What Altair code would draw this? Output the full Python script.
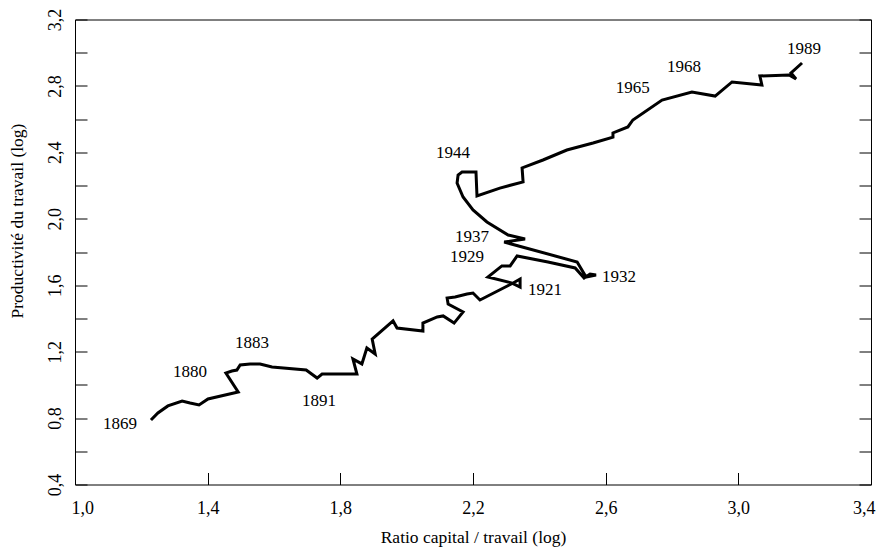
import altair as alt
import pandas as pd

# Trajectory (one vertex per year), chronological order
ratio_kl = [1.229, 1.250, 1.280, 1.323, 1.347, 1.374, 1.401, 1.492, 1.455, 1.473,
            1.488, 1.498, 1.528, 1.558, 1.594, 1.697, 1.730, 1.745, 1.850, 1.838,
            1.865, 1.880, 1.905, 1.896, 1.959, 1.971, 2.049, 2.049, 2.092, 2.110,
            2.143, 2.170, 2.125, 2.122, 2.146, 2.182, 2.200, 2.221, 2.321, 2.342,
            2.342, 2.318, 2.245, 2.287, 2.312, 2.333, 2.426, 2.508, 2.535, 2.553,
            2.571, 2.541, 2.514, 2.294, 2.357, 2.306, 2.242, 2.200, 2.170, 2.152,
            2.155, 2.167, 2.209, 2.212, 2.281, 2.351, 2.348, 2.411, 2.483, 2.562,
            2.622, 2.622, 2.667, 2.682, 2.770, 2.860, 2.930, 2.981, 3.071, 3.065,
            3.153, 3.174, 3.159, 3.192]
productivite = [0.788, 0.831, 0.873, 0.903, 0.891, 0.879, 0.915, 0.957, 1.071, 1.083,
                1.089, 1.120, 1.126, 1.126, 1.108, 1.089, 1.041, 1.065, 1.065, 1.156,
                1.126, 1.222, 1.186, 1.276, 1.385, 1.342, 1.324, 1.372, 1.409, 1.415,
                1.372, 1.439, 1.487, 1.523, 1.529, 1.547, 1.553, 1.511, 1.613, 1.637,
                1.589, 1.613, 1.649, 1.716, 1.716, 1.776, 1.740, 1.704, 1.643, 1.667,
                1.661, 1.649, 1.740, 1.860, 1.878, 1.902, 1.981, 2.053, 2.131, 2.215,
                2.264, 2.282, 2.282, 2.137, 2.185, 2.222, 2.306, 2.354, 2.414, 2.456,
                2.492, 2.517, 2.553, 2.595, 2.715, 2.763, 2.739, 2.824, 2.806, 2.860,
                2.866, 2.842, 2.878, 2.938]

# Year annotations
annees = ["1869", "1880", "1883", "1891", "1921", "1929", "1937", "1944",
          "1932", "1965", "1968", "1989"]
annee_x = [1.136, 1.347, 1.534, 1.736, 2.417, 2.182, 2.197, 2.140,
           2.640, 2.682, 2.836, 3.198]
annee_y = [0.764, 1.077, 1.252, 0.903, 1.571, 1.770, 1.890, 2.396,
           1.649, 2.788, 2.914, 3.022]

x_ticks = [1.0, 1.4, 1.8, 2.2, 2.6, 3.0, 3.4]
y_ticks = [0.4, 0.6, 0.8, 1.0, 1.2, 1.4, 1.6, 1.8, 2.0, 2.2, 2.4, 2.6, 2.8, 3.0, 3.2]

path = pd.DataFrame({"ordre": list(range(len(ratio_kl))), "k": ratio_kl, "p": productivite})
labels = pd.DataFrame({"annee": annees, "k": annee_x, "p": annee_y})

FONT = "Liberation Serif"
fmt = "replace(format(datum.value, '.1f'), '.', ',')"

x_scale = alt.Scale(domain=[1.0, 3.4], nice=False, zero=False)
y_scale = alt.Scale(domain=[0.4, 3.2], nice=False, zero=False)

x_axis = alt.Axis(title="Ratio capital / travail (log)", values=x_ticks, labelExpr=fmt,
                  offset=-12, tickSize=12, domain=False, grid=False, labelPadding=15,
                  labelFlush=True, labelFlushOffset=4, titleY=70,
                  titleBaseline="alphabetic")

y_left_axis = alt.Axis(title="Productivité du travail (log)", values=y_ticks,
                       labelExpr="round(datum.value*10) % 4 == 0 ? " + fmt + " : ''",
                       labelAngle=270, labelAlign="center", labelBaseline="middle",
                       labelPadding=20, offset=-12, tickSize=12, domain=False, grid=False,
                       labelFlush=False, labelOverlap=False,
                       titleAngle=270, titleX=-70, titleY=201, titleAlign="center",
                       titleBaseline="middle")

y_right_axis = alt.Axis(orient="right", title="", values=y_ticks, labels=False,
                        offset=-12, tickSize=12, domain=False, grid=False)

line = alt.Chart(path).mark_line(color="black", strokeWidth=3).encode(
    x=alt.X("k:Q", scale=x_scale, axis=x_axis),
    y=alt.Y("p:Q", scale=y_scale, axis=y_left_axis),
    order="ordre:Q",
)

text = alt.Chart(labels).mark_text(font=FONT, fontSize=17, align="center",
                                   baseline="middle", color="black").encode(
    x=alt.X("k:Q", scale=x_scale, axis=x_axis),
    y=alt.Y("p:Q", scale=y_scale, axis=y_right_axis),
    text="annee:N",
)

chart = alt.layer(line, text).resolve_axis(y="independent").properties(
    width=796, height=465,
    padding={"left": 67, "top": 11.5, "right": 5, "bottom": 63.5},
    autosize=alt.AutoSizeParams(type="none"),
).configure_view(stroke="black", strokeWidth=1).configure_axis(
    labelFont=FONT, titleFont=FONT, labelFontSize=18, titleFontSize=17.5,
    titleFontWeight="normal", labelColor="black", titleColor="black",
    tickColor="black", tickWidth=1,
)

chart.save("out.html", embed_options={"renderer": "svg", "actions": False})
